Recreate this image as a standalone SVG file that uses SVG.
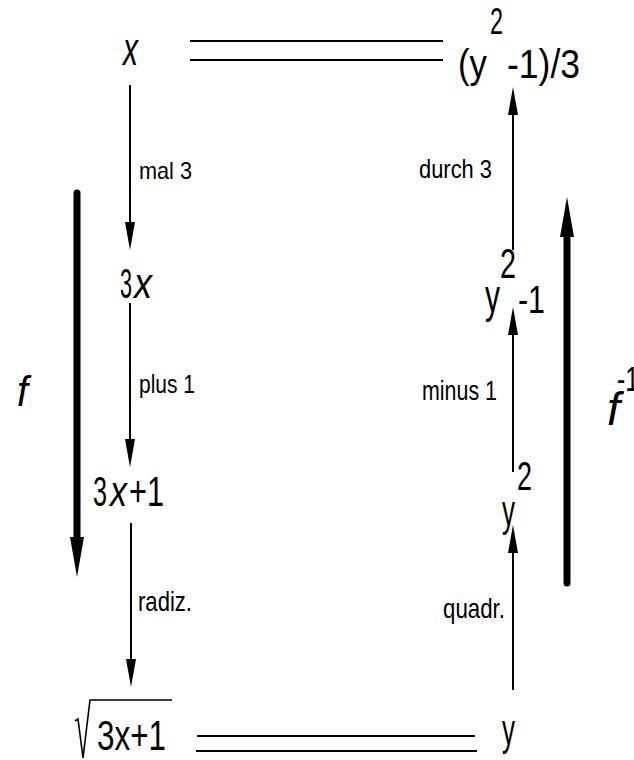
<svg xmlns="http://www.w3.org/2000/svg" width="634" height="760" viewBox="0 0 634 760">
<defs>
<style>
text{font-family:"Liberation Sans",Arial,sans-serif;fill:#000}
.it{font-style:italic}
.lbl{font-size:26px}
.thin{stroke:#000;stroke-width:2;fill:none;marker-end:url(#ah)}
.thick{stroke:#000;stroke-width:7;fill:none;stroke-linecap:round;marker-end:url(#ahb)}
.eq{stroke:#000;stroke-width:2;fill:none}
</style>
<marker id="ah" markerUnits="userSpaceOnUse" markerWidth="28" markerHeight="10" refX="14" refY="5" orient="auto" overflow="visible"><path d="M0,0 L28,5 L0,10 z" fill="#000"/></marker>
<marker id="ahb" markerUnits="userSpaceOnUse" markerWidth="40" markerHeight="14" refX="15" refY="7" orient="auto" overflow="visible"><path d="M0,0 L40,7 L0,14 z" fill="#000"/></marker>
</defs>
<rect width="634" height="760" fill="#fff"/>
<g id="connectors">
<path class="thin" d="M130,85 V236"/>
<path class="thin" d="M130,303 V453"/>
<path class="thin" d="M131,523 V673"/>
<path class="thin" d="M513,250 V101"/>
<path class="thin" d="M513,472 V321"/>
<path class="thin" d="M513,690 V539"/>
<path class="thick" d="M77,193 V552"/>
<path class="thick" d="M567,583 V222"/>
<path class="eq" d="M190,41 H443 M190,60 H443"/>
<path class="eq" d="M197,736 H475 M196,751 H477"/>
<text x="139" y="179" textLength="53" lengthAdjust="spacingAndGlyphs" style="font-size:24px">mal 3</text>
<text class="lbl" x="139" y="393" textLength="56" lengthAdjust="spacingAndGlyphs">plus 1</text>
<text x="138" y="611" textLength="54" lengthAdjust="spacingAndGlyphs" style="font-size:28px">radiz.</text>
<text class="lbl" x="419" y="178" textLength="73" lengthAdjust="spacingAndGlyphs">durch 3</text>
<text x="422" y="400" textLength="75" lengthAdjust="spacingAndGlyphs" style="font-size:28px">minus 1</text>
<text x="443" y="618" textLength="62" lengthAdjust="spacingAndGlyphs" style="font-size:28px">quadr.</text>
</g>
<g id="f-label"><text class="it" x="17" y="406" font-size="42" textLength="11" lengthAdjust="spacingAndGlyphs">f</text></g>
<g id="finv-label"><text class="it" x="607" y="425" font-size="46" textLength="13" lengthAdjust="spacingAndGlyphs">f</text><text x="617" y="391" font-size="35" textLength="22" lengthAdjust="spacingAndGlyphs">-1</text></g>
<g id="n-x"><text class="it" x="123" y="65" font-size="46" textLength="15" lengthAdjust="spacingAndGlyphs">x</text></g>
<g id="n-3x"><text x="120" y="298" font-size="42" textLength="12" lengthAdjust="spacingAndGlyphs">3</text><text class="it" x="134" y="298" font-size="42" textLength="18" lengthAdjust="spacingAndGlyphs">x</text></g>
<g id="n-3x1"><text x="93" y="506" font-size="42" textLength="14" lengthAdjust="spacingAndGlyphs">3</text><text class="it" x="110" y="506" font-size="42" textLength="17" lengthAdjust="spacingAndGlyphs">x</text><text x="129" y="506" font-size="42" textLength="35" lengthAdjust="spacingAndGlyphs">+1</text></g>
<g id="n-sqrt"><path d="M75,721 L78,719 L83,758 L90,700 H172" stroke="#000" stroke-width="1.6" fill="none"/><text x="97" y="750" font-size="43" textLength="69" lengthAdjust="spacingAndGlyphs">3x+1</text></g>
<g id="n-top-right"><text x="458" y="78" font-size="41" textLength="29" lengthAdjust="spacingAndGlyphs">(y</text><text x="490" y="34" font-size="37" textLength="13" lengthAdjust="spacingAndGlyphs">2</text><text x="507" y="78" font-size="41" textLength="73" lengthAdjust="spacingAndGlyphs">-1)/3</text></g>
<g id="n-y2-1"><text x="485" y="312" font-size="46" textLength="15" lengthAdjust="spacingAndGlyphs">y</text><text x="500" y="278" font-size="42" textLength="16" lengthAdjust="spacingAndGlyphs">2</text><text x="518" y="313" font-size="38" textLength="27" lengthAdjust="spacingAndGlyphs">-1</text></g>
<g id="n-y2"><text x="502" y="526" font-size="44" textLength="13" lengthAdjust="spacingAndGlyphs">y</text><text x="517" y="490" font-size="41" textLength="15" lengthAdjust="spacingAndGlyphs">2</text></g>
<g id="n-y"><text x="502" y="745" font-size="44" textLength="13" lengthAdjust="spacingAndGlyphs">y</text></g>
</svg>
